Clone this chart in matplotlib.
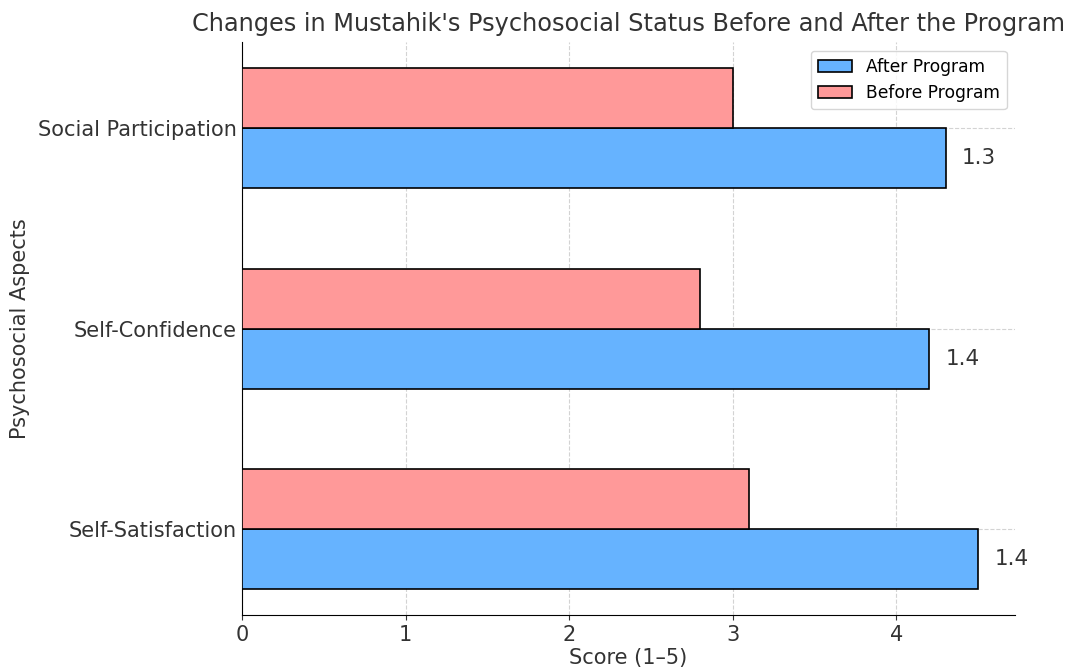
import numpy as np
import matplotlib.pyplot as plt

# data
aspects = ['Self-Satisfaction', 'Self-Confidence', 'Social Participation']
before = [3.1, 2.8, 3.0]
after = [4.5, 4.2, 4.3]

y = np.arange(len(aspects))
h = 0.3

fig, ax = plt.subplots(figsize=(10.73, 6.70), dpi=100)
fig.subplots_adjust(left=0.2255, right=0.946, top=0.937, bottom=0.082)

ax.barh(y - h/2, after, height=h, color='#66b3ff', edgecolor='black', linewidth=1.2,
        label='After Program', zorder=3)
ax.barh(y + h/2, before, height=h, color='#ff9999', edgecolor='black', linewidth=1.2,
        label='Before Program', zorder=3)

# difference labels
for i in range(len(aspects)):
    diff = after[i] - before[i]
    ax.text(after[i] + 0.1, y[i] - h/2, f'{diff:.1f}', va='center', ha='left',
            fontsize=15.5, color='#333333')

ax.set_yticks(y)
ax.set_yticklabels(aspects)
ax.tick_params(axis='both', labelsize=15, colors='#333333')
ax.tick_params(axis='y', length=0)
ax.set_xlabel('Score (1–5)', fontsize=15, color='#333333', labelpad=2)
ax.set_ylabel('Psychosocial Aspects', fontsize=15, color='#333333', labelpad=6)
ax.set_title("Changes in Mustahik's Psychosocial Status Before and After the Program",
             fontsize=17.3, color='#333333', pad=8)

ax.grid(True, linestyle='--', color='lightgray', linewidth=0.8, zorder=0)
ax.set_axisbelow(True)
for s in ['top', 'right']:
    ax.spines[s].set_visible(False)

ax.legend(loc='upper right', fontsize=12.3)

plt.savefig('out.png', dpi=100)
